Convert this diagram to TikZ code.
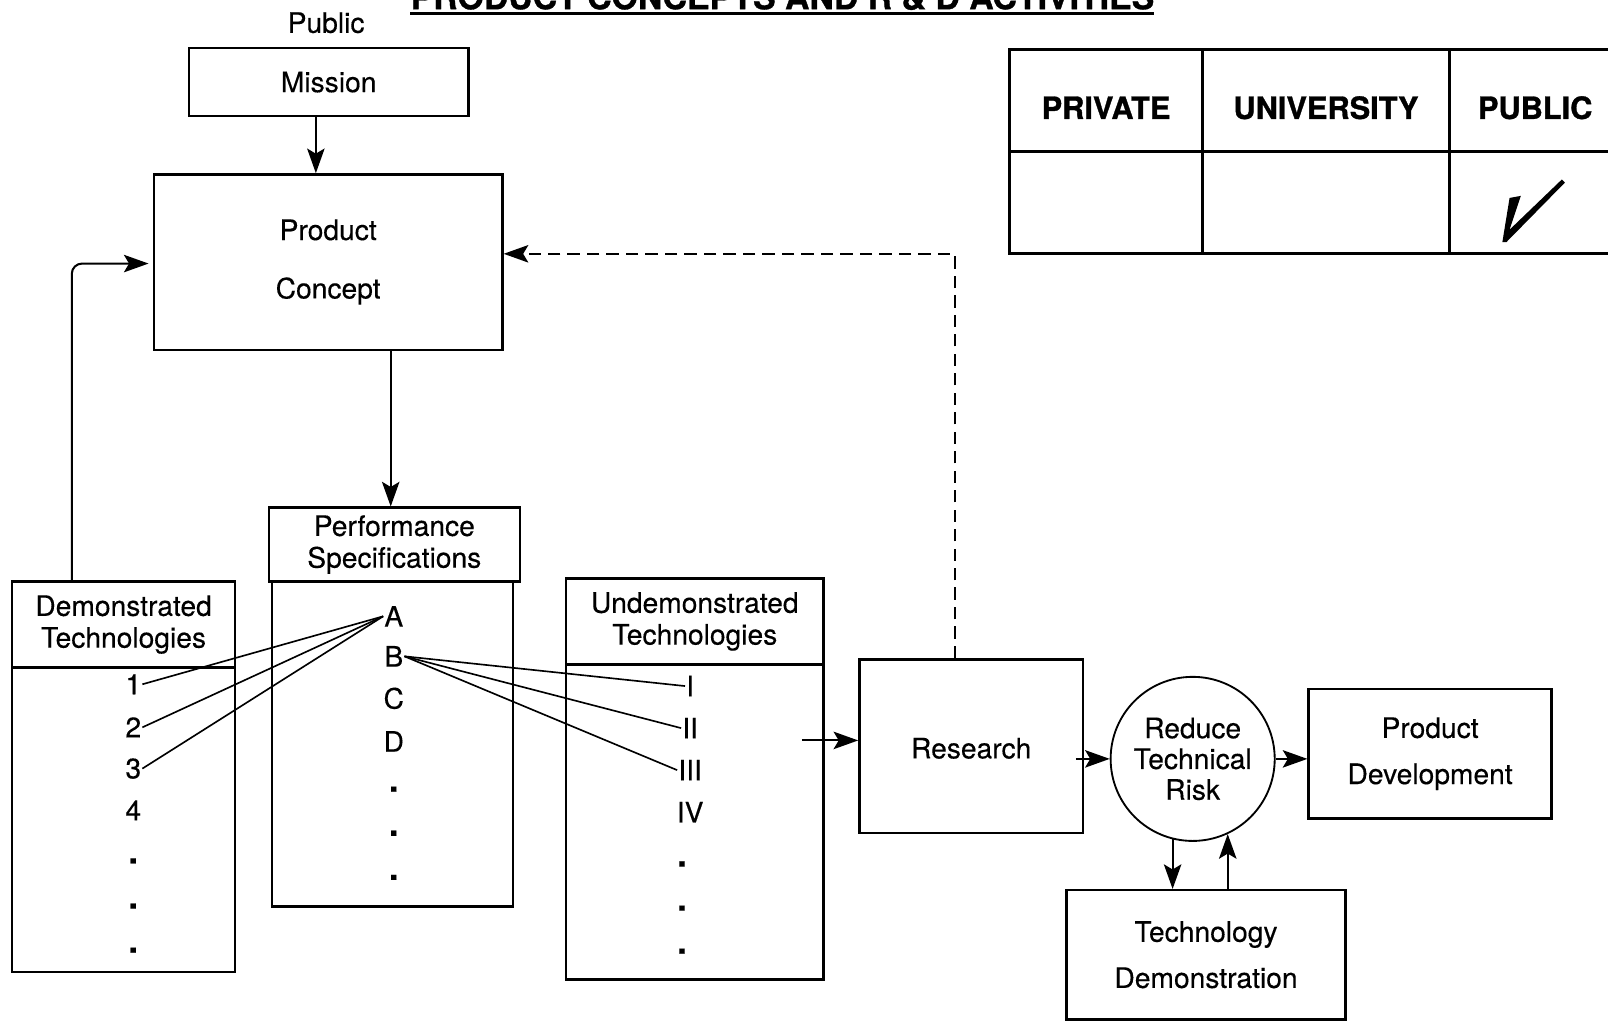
\documentclass[tikz,border=0pt]{standalone}
\usepackage{fontspec}
\setmainfont{TeX Gyre Heros}[FakeBold=0.3]
\newfontfamily\tblfont{texgyreheros-bold.otf}[FakeBold=1.0]
\usetikzlibrary{arrows.meta,calc}
\newcommand\fsz{\fontsize{27.5}{31}\selectfont}
\newcommand\tfz{\tblfont\fontsize{30}{34}\selectfont}
\begin{document}
\begin{tikzpicture}[x=1pt,y=-1pt,
  box/.style={draw, line width=2.3pt, inner sep=0pt, align=center, font=\fsz},
  lbl/.style={inner sep=1pt, font=\fsz, anchor=base},
  dotlbl/.style={inner sep=0pt, font=\fontsize{34}{36}\selectfont\bfseries, anchor=base},
  arr/.style={line width=2pt, -{Stealth[length=24pt,width=17pt,inset=5pt]}},
  link/.style={line width=1.6pt},
  tcell/.style={draw, line width=3pt, inner sep=0pt, font=\tfz, text height=36pt, text depth=0pt}]
\useasboundingbox (0,0) rectangle (1568,996);

% title (cut off at the top)
\node[font=\tblfont\fontsize{33}{36}\selectfont, inner sep=0pt, anchor=base] (title) at (763,9) {PRODUCT CONCEPTS AND R \& D ACTIVITIES};
\draw[line width=2.5pt] ([yshift=-4pt]title.base west) -- ([yshift=-4pt]title.base east);

% top boxes
\node[lbl] (public) at (318,32) {Public};
\node[box, minimum width=273pt, minimum height=66pt] (mission) at (320.5,80) {Mission};
\node[box, minimum width=340pt, minimum height=171pt] (pc) at (320,255.5) {Product\\[26pt]Concept};

% performance specifications
\node[box, minimum width=245pt, minimum height=72pt] (perfH) at (384.5,531) {Performance\\Specifications};
\node[box, minimum width=235pt, minimum height=317pt] (perfL) at (382.5,725.5) {};

% demonstrated technologies
\node[box, minimum width=217pt, minimum height=84pt] (demoH) at (120.5,609) {Demonstrated\\Technologies};
\node[box, minimum width=217pt, minimum height=297pt] (demoL) at (120.5,799.5) {};

% undemonstrated technologies
\node[box, minimum width=251pt, minimum height=84pt] (udH) at (677.5,606) {Undemonstrated\\Technologies};
\node[box, minimum width=251pt, minimum height=307pt] (udL) at (677.5,801.5) {};

% right part
\node[box, minimum width=218pt, minimum height=169pt, text height=24pt, text depth=0pt] (res) at (947,727.5) {Research};
\node[box, circle, line width=1.8pt, minimum size=160pt] (circ) at (1163,740) {Reduce\\[-1pt]Technical\\[-1pt]Risk};
\node[box, minimum width=237pt, minimum height=126pt] (pd) at (1394.5,735) {Product\\[14pt]Development};
\node[box, minimum width=272pt, minimum height=126pt] (td) at (1176,931) {Technology\\[14pt]Demonstration};

% table
\node[tcell, minimum width=189pt, minimum height=100pt] (t11) at (1078.5,98) {PRIVATE};
\node[tcell, minimum width=240pt, minimum height=100pt] (t12) at (1293,98) {UNIVERSITY};
\node[tcell, minimum width=168pt, minimum height=100pt] (t13) at (1497,98) {PUBLIC};
\node[tcell, minimum width=189pt, minimum height=99pt] (t21) at (1078.5,197.5) {};
\node[tcell, minimum width=240pt, minimum height=99pt] (t22) at (1293,197.5) {};
\node[tcell, minimum width=168pt, minimum height=99pt] (t23) at (1497,197.5) {};
\fill (1472,193) -- (1483,191) -- (1472,224) -- (1523,175) -- (1526,178) -- (1469,236) -- (1465,236) -- cycle;

% list items: demonstrated
\node[lbl] (n1) at (130,677) {1};
\node[lbl] (n2) at (130,719) {2};
\node[lbl] (n3) at (130,759) {3};
\node[lbl] (n4) at (130,800) {4};
\node[dotlbl] (nd1) at (130,842) {.};
\node[dotlbl] (nd2) at (130,886) {.};
\node[dotlbl] (nd3) at (130,929) {.};

% list items: specifications
\node[lbl] (A) at (384,611) {A};
\node[lbl] (B) at (384,650) {B};
\node[lbl] (C) at (384,691) {C};
\node[lbl] (D) at (384,733) {D};
\node[dotlbl] (sd1) at (384,772) {.};
\node[dotlbl] (sd2) at (384,815) {.};
\node[dotlbl] (sd3) at (384,858) {.};

% list items: undemonstrated
\node[lbl] (r1) at (673,679) {I};
\node[lbl] (r2) at (673,720) {II};
\node[lbl] (r3) at (673,761) {III};
\node[lbl] (r4) at (673,802) {IV};
\node[dotlbl] (ud1) at (665,845) {.};
\node[dotlbl] (ud2) at (665,888) {.};
\node[dotlbl] (ud3) at (665,930) {.};

% links
\draw[link] (n1.east) -- (A.west);
\draw[link] (n2.east) -- (A.west);
\draw[link] (n3.east) -- (A.west);
\draw[link] (B.east) -- (r1.west);
\draw[link] (B.east) -- (r2.west);
\draw[link] (B.east) -- (r3.west);

% arrows
\coordinate (m1) at ([xshift=-12.5pt]mission.south);
\draw[arr] (m1) -- (m1 |- pc.north);
\coordinate (p1) at ([xshift=61pt]pc.south);
\draw[arr] (p1) -- (p1 |- perfH.north);
\coordinate (d1) at ([xshift=-50.5pt]demoH.north);
\draw[arr, rounded corners=10pt, shorten >=4pt] (d1) |- ([yshift=-1.5pt]pc.west);
\coordinate (rs) at ([xshift=-16pt]res.north);
\draw[arr, dash pattern=on 12pt off 7pt] (rs) |- ([yshift=8pt]pc.east);
\coordinate (u1) at ([yshift=5.5pt]res.west);
\draw[arr] ([xshift=-55pt]u1) -- (u1);
\draw[arr] ($(res.east |- circ.west)+(-8pt,0)$) -- (circ.west);
\draw[arr] (circ.east) -- (circ.east -| pd.west);
\draw[arr] (circ.-104) -- (circ.-104 |- td.north);
\draw[arr] (circ.-65 |- td.north) -- (circ.-65);
\end{tikzpicture}
\end{document}
